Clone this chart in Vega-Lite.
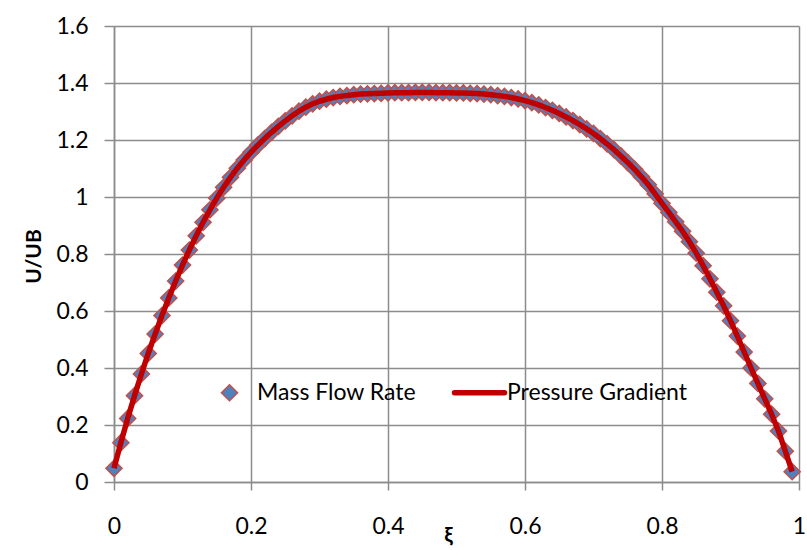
{
  "$schema": "https://vega.github.io/schema/vega-lite/v6.json",
  "width": 685,
  "height": 456,
  "autosize": {"type": "none"},
  "padding": {"left": 114, "top": 26, "right": 8, "bottom": 68},
  "background": "white",
  "config": {"view": {"stroke": null}, "font": "Lato"},
  "datasets": {
    "profile": [
      {"x": 0.00, "u": 0.048}, {"x": 0.01, "u": 0.138}, {"x": 0.02, "u": 0.223}, {"x": 0.03, "u": 0.303}, {"x": 0.04, "u": 0.379},
      {"x": 0.05, "u": 0.451}, {"x": 0.06, "u": 0.519}, {"x": 0.07, "u": 0.584}, {"x": 0.08, "u": 0.646}, {"x": 0.09, "u": 0.705},
      {"x": 0.10, "u": 0.761}, {"x": 0.11, "u": 0.814}, {"x": 0.12, "u": 0.864}, {"x": 0.13, "u": 0.911}, {"x": 0.14, "u": 0.955},
      {"x": 0.15, "u": 0.996}, {"x": 0.16, "u": 1.034}, {"x": 0.17, "u": 1.069}, {"x": 0.18, "u": 1.101}, {"x": 0.19, "u": 1.130},
      {"x": 0.20, "u": 1.157}, {"x": 0.21, "u": 1.182}, {"x": 0.22, "u": 1.205}, {"x": 0.23, "u": 1.227}, {"x": 0.24, "u": 1.248},
      {"x": 0.25, "u": 1.267}, {"x": 0.26, "u": 1.285}, {"x": 0.27, "u": 1.301}, {"x": 0.28, "u": 1.315}, {"x": 0.29, "u": 1.327},
      {"x": 0.30, "u": 1.336}, {"x": 0.31, "u": 1.343}, {"x": 0.32, "u": 1.349}, {"x": 0.33, "u": 1.353}, {"x": 0.34, "u": 1.356},
      {"x": 0.35, "u": 1.359}, {"x": 0.36, "u": 1.361}, {"x": 0.37, "u": 1.362}, {"x": 0.38, "u": 1.363}, {"x": 0.39, "u": 1.364},
      {"x": 0.40, "u": 1.365}, {"x": 0.41, "u": 1.366}, {"x": 0.42, "u": 1.366}, {"x": 0.43, "u": 1.366}, {"x": 0.44, "u": 1.367},
      {"x": 0.45, "u": 1.367}, {"x": 0.46, "u": 1.367}, {"x": 0.47, "u": 1.366}, {"x": 0.48, "u": 1.366}, {"x": 0.49, "u": 1.366},
      {"x": 0.50, "u": 1.365}, {"x": 0.51, "u": 1.365}, {"x": 0.52, "u": 1.364}, {"x": 0.53, "u": 1.363}, {"x": 0.54, "u": 1.361},
      {"x": 0.55, "u": 1.359}, {"x": 0.56, "u": 1.356}, {"x": 0.57, "u": 1.353}, {"x": 0.58, "u": 1.349}, {"x": 0.59, "u": 1.344},
      {"x": 0.60, "u": 1.338}, {"x": 0.61, "u": 1.331}, {"x": 0.62, "u": 1.323}, {"x": 0.63, "u": 1.314}, {"x": 0.64, "u": 1.304},
      {"x": 0.65, "u": 1.293}, {"x": 0.66, "u": 1.281}, {"x": 0.67, "u": 1.268}, {"x": 0.68, "u": 1.254}, {"x": 0.69, "u": 1.239},
      {"x": 0.70, "u": 1.223}, {"x": 0.71, "u": 1.205}, {"x": 0.72, "u": 1.186}, {"x": 0.73, "u": 1.166}, {"x": 0.74, "u": 1.144},
      {"x": 0.75, "u": 1.121}, {"x": 0.76, "u": 1.097}, {"x": 0.77, "u": 1.071}, {"x": 0.78, "u": 1.043}, {"x": 0.79, "u": 1.011},
      {"x": 0.80, "u": 0.978}, {"x": 0.81, "u": 0.946}, {"x": 0.82, "u": 0.913}, {"x": 0.83, "u": 0.880}, {"x": 0.84, "u": 0.843},
      {"x": 0.85, "u": 0.803}, {"x": 0.86, "u": 0.759}, {"x": 0.87, "u": 0.713}, {"x": 0.88, "u": 0.666}, {"x": 0.89, "u": 0.618},
      {"x": 0.90, "u": 0.566}, {"x": 0.91, "u": 0.512}, {"x": 0.92, "u": 0.456}, {"x": 0.93, "u": 0.400}, {"x": 0.94, "u": 0.346},
      {"x": 0.95, "u": 0.292}, {"x": 0.96, "u": 0.238}, {"x": 0.97, "u": 0.179}, {"x": 0.98, "u": 0.108}, {"x": 0.99, "u": 0.036}
    ]
  },
  "data": {"name": "profile"},
  "encoding": {
    "x": {
      "field": "x", "type": "quantitative",
      "scale": {"domain": [0, 1], "nice": false, "zero": false},
      "axis": {
        "values": [0, 0.2, 0.4, 0.6, 0.8, 1], "format": "~g",
        "grid": true, "gridColor": "#8c8c8c", "gridWidth": 1.5,
        "domainColor": "#8c8c8c", "domainWidth": 1.5,
        "tickColor": "#8c8c8c", "tickWidth": 1.5, "tickSize": 8,
        "labelFont": "Lato", "labelFontSize": 23, "labelColor": "black", "labelPadding": 25,
        "labelFlush": false, "labelOverlap": false,
        "title": "ξ", "titleFont": "Lato", "titleFontSize": 21, "titleFontWeight": "bold", "titleColor": "black",
        "titleX": 334, "titleY": 59, "titleBaseline": "alphabetic"
      }
    },
    "y": {
      "field": "u", "type": "quantitative",
      "scale": {"domain": [0, 1.6], "nice": false},
      "axis": {
        "values": [0, 0.2, 0.4, 0.6, 0.8, 1, 1.2, 1.4, 1.6], "format": "~g",
        "grid": true, "gridColor": "#8c8c8c", "gridWidth": 1.5,
        "domainColor": "#8c8c8c", "domainWidth": 1.5,
        "tickColor": "#8c8c8c", "tickWidth": 1.5, "tickSize": 10,
        "labelFont": "Lato", "labelFontSize": 23, "labelColor": "black", "labelPadding": 16,
        "labelFlush": false, "labelOverlap": false,
        "title": "U/UB", "titleFont": "Lato", "titleFontSize": 21, "titleFontWeight": "bold", "titleColor": "black",
        "titleX": -80, "titleY": 230, "titleAngle": -90, "titleBaseline": "middle", "titleAlign": "center"
      }
    }
  },
  "layer": [
    {
      "mark": {"type": "point", "shape": "diamond", "filled": true, "size": 260, "stroke": "#C0504D", "strokeWidth": 1.5, "opacity": 1},
      "encoding": {
        "color": {
          "datum": "Mass Flow Rate", "type": "nominal",
          "scale": {"domain": ["Mass Flow Rate", "Pressure Gradient"], "range": ["#4F81BD", "#C00000"]},
          "legend": {
            "orient": "none", "legendX": 104, "legendY": 355, "direction": "horizontal", "title": null,
            "symbolSize": 2704, "labelOffset": 16, "columnPadding": 26, "labelLimit": 400,
            "labelFont": "Lato", "labelFontSize": 23, "labelColor": "black",
            "encoding": {
              "symbols": {
                "shape": {"value": {"expr": "datum.value === 'Mass Flow Rate' ? 'diamond' : 'stroke'"}},
                "size": {"value": {"expr": "datum.value === 'Mass Flow Rate' ? 260 : 2500"}},
                "fill": {"value": {"expr": "datum.value === 'Mass Flow Rate' ? '#4F81BD' : 'transparent'"}},
                "stroke": {"value": {"expr": "datum.value === 'Mass Flow Rate' ? '#C0504D' : '#C00000'"}},
                "strokeWidth": {"value": {"expr": "datum.value === 'Mass Flow Rate' ? 1.5 : 5.5"}},
                "strokeCap": {"value": "round"},
                "opacity": {"value": 1}
              }
            }
          }
        }
      }
    },
    {
      "mark": {"type": "line", "strokeWidth": 5.5, "strokeJoin": "round", "color": "#C00000"},
      "encoding": {}
    }
  ]
}
